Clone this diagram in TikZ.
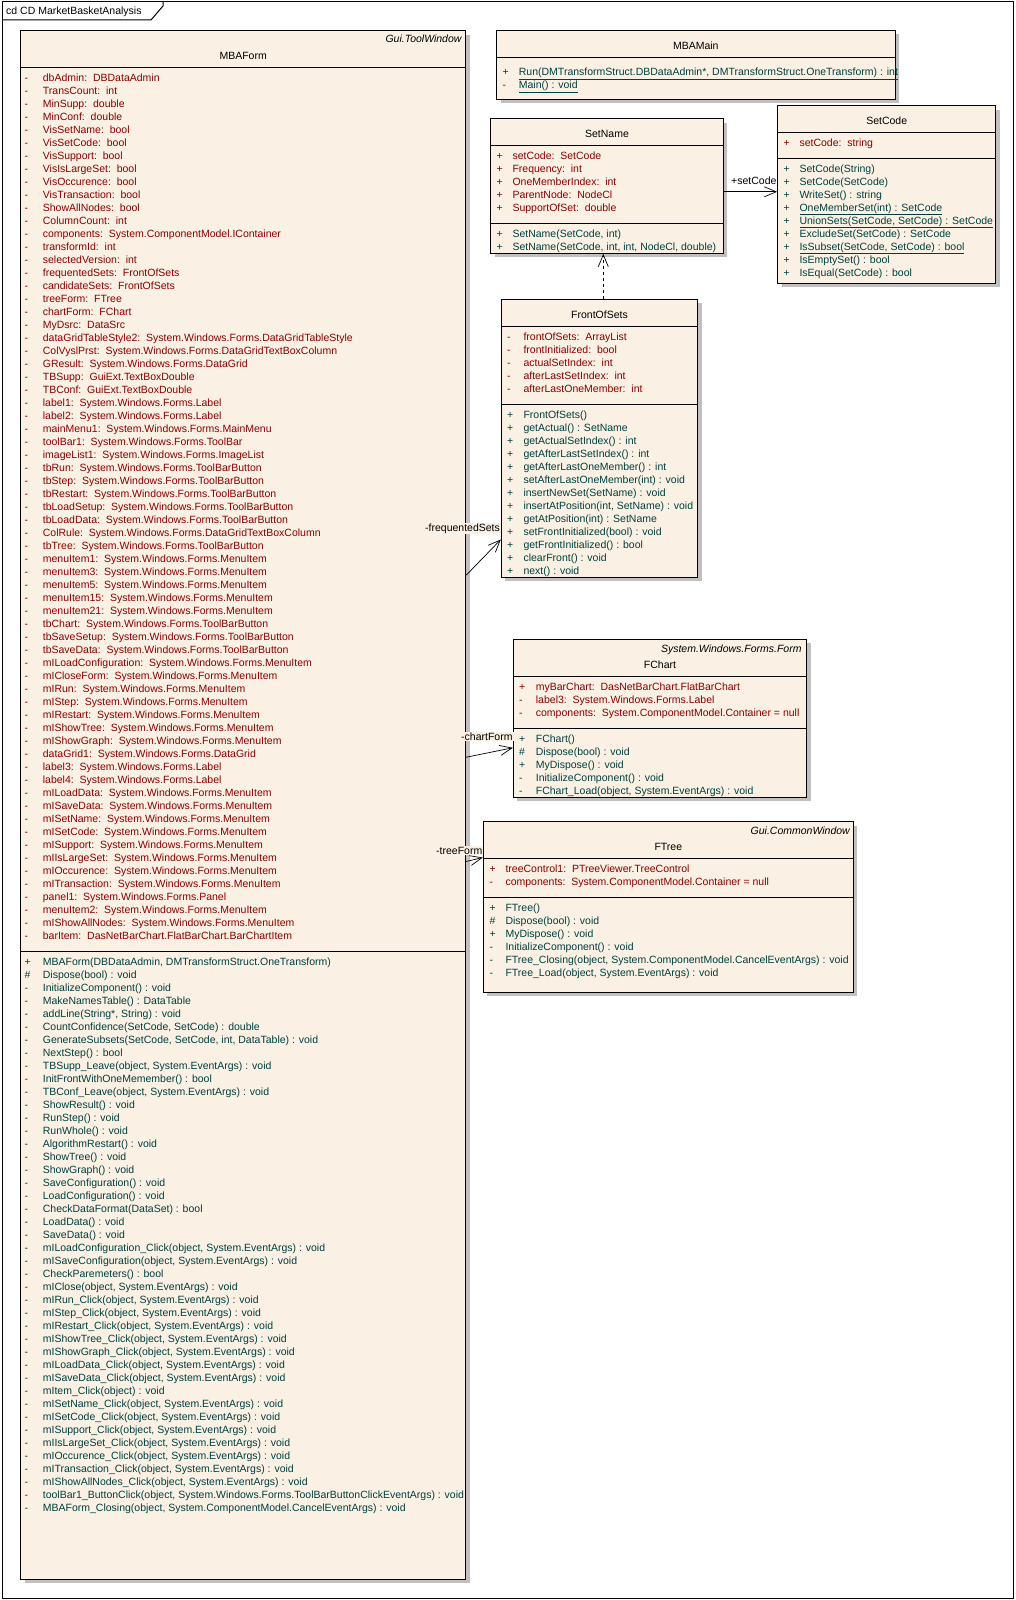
\documentclass[tikz,border=0pt]{standalone}
\usepackage{fontspec}
\setmainfont{Liberation Sans}
\usetikzlibrary{arrows.meta,fit,calc}
\definecolor{boxfill}{RGB}{250,240,227}
\definecolor{attrc}{RGB}{140,0,0}
\definecolor{methc}{RGB}{0,64,64}
\definecolor{shadowc}{RGB}{192,192,192}
\newcounter{rowc}
\newcommand\rowfont{\fontsize{10.5}{12}\selectfont}
\tikzset{
  classbox/.style={draw=black, line width=1pt, fill=boxfill, inner sep=0pt},
  rowtxt/.style={anchor=base west, inner sep=0pt, font=\rowfont},
  attrtxt/.style={rowtxt, text=attrc},
  methtxt/.style={rowtxt, text=methc},
  nametxt/.style={anchor=base, inner sep=0pt, font=\rowfont},
  stereo/.style={anchor=base east, inner sep=0pt, font=\rowfont\itshape},
  sepline/.style={line width=1pt},
  assoc/.style={line width=0.7pt, -{Straight Barb[length=12pt,width=10pt]}},
  dep/.style={line width=0.7pt, dash pattern=on 3pt off 3pt, -{Straight Barb[length=12pt,width=10pt]}},
  lbl/.style={anchor=base west, inner sep=1pt, font=\rowfont},
}
\newcommand\SX{0}
\newcommand\TX{0}
\newcommand\rowy{0}
\newcommand\startrows[3]{\xdef\SX{#1}\xdef\TX{#2}\xdef\rowy{#3}}
\newcommand\anyrow[3]{%
  \stepcounter{rowc}%
  \node[#1] (s\arabic{rowc}) at (\SX,\rowy+3.7) {#2};
  \node[#1] (t\arabic{rowc}) at (\TX,\rowy+3.7) {#3};
  \pgfmathsetmacro\tmpy{\rowy+13}\xdef\rowy{\tmpy}}
\newcommand\Arow[2]{\anyrow{attrtxt}{#1}{#2}}
\newcommand\Mrow[2]{\anyrow{methtxt}{#1}{#2}}
% name, x1, y1, x2, y2
\newcommand\umlbox[5]{%
  \fill[shadowc] (#2+4,#3+4) rectangle (#4+4,#5+4);
  \coordinate (#1-nw) at (#2,#3);
  \coordinate (#1-se) at (#4,#5);
  \node[classbox, fit=(#1-nw)(#1-se)] (#1) {};
}
\newcommand\sep[3]{\draw[sepline] (#1,#3) -- (#2,#3);}

\begin{document}
\begin{tikzpicture}[x=1pt,y=-1pt]
\useasboundingbox (0,0) rectangle (1016,1600);
\fill[white] (0,0) rectangle (1016,1600);
% frame
\draw[line width=1pt] (2,2) rectangle (1013,1598);
\draw[line width=1pt] (2,20) -- (151,20) -- (163,6) -- (163,2);
\node[anchor=base west, inner sep=0pt, font=\rowfont] (framelbl) at (6,14.5) {cd CD MarketBasketAnalysis};

% ---------------- MBAForm
\umlbox{mba}{20.7}{30.7}{465.7}{1579.3}
\node[stereo] (mbast) at (461.7,43) {Gui.ToolWindow};
\node[nametxt] (mbaname) at (243.2,59.4) {MBAForm};
\sep{20.7}{465.7}{67.3}
\sep{20.7}{465.7}{951.7}
\startrows{24.5}{42.7}{77.7}
\Arow{-}{dbAdmin:\ \ DBDataAdmin}
\Arow{-}{TransCount:\ \ int}
\Arow{-}{MinSupp:\ \ double}
\Arow{-}{MinConf:\ \ double}
\Arow{-}{VisSetName:\ \ bool}
\Arow{-}{VisSetCode:\ \ bool}
\Arow{-}{VisSupport:\ \ bool}
\Arow{-}{VisIsLargeSet:\ \ bool}
\Arow{-}{VisOccurence:\ \ bool}
\Arow{-}{VisTransaction:\ \ bool}
\Arow{-}{ShowAllNodes:\ \ bool}
\Arow{-}{ColumnCount:\ \ int}
\Arow{-}{components:\ \ System.ComponentModel.IContainer}
\Arow{-}{transformId:\ \ int}
\Arow{-}{selectedVersion:\ \ int}
\Arow{-}{frequentedSets:\ \ FrontOfSets}
\Arow{-}{candidateSets:\ \ FrontOfSets}
\Arow{-}{treeForm:\ \ FTree}
\Arow{-}{chartForm:\ \ FChart}
\Arow{-}{MyDsrc:\ \ DataSrc}
\Arow{-}{dataGridTableStyle2:\ \ System.Windows.Forms.DataGridTableStyle}
\Arow{-}{ColVyslPrst:\ \ System.Windows.Forms.DataGridTextBoxColumn}
\Arow{-}{GResult:\ \ System.Windows.Forms.DataGrid}
\Arow{-}{TBSupp:\ \ GuiExt.TextBoxDouble}
\Arow{-}{TBConf:\ \ GuiExt.TextBoxDouble}
\Arow{-}{label1:\ \ System.Windows.Forms.Label}
\Arow{-}{label2:\ \ System.Windows.Forms.Label}
\Arow{-}{mainMenu1:\ \ System.Windows.Forms.MainMenu}
\Arow{-}{toolBar1:\ \ System.Windows.Forms.ToolBar}
\Arow{-}{imageList1:\ \ System.Windows.Forms.ImageList}
\Arow{-}{tbRun:\ \ System.Windows.Forms.ToolBarButton}
\Arow{-}{tbStep:\ \ System.Windows.Forms.ToolBarButton}
\Arow{-}{tbRestart:\ \ System.Windows.Forms.ToolBarButton}
\Arow{-}{tbLoadSetup:\ \ System.Windows.Forms.ToolBarButton}
\Arow{-}{tbLoadData:\ \ System.Windows.Forms.ToolBarButton}
\Arow{-}{ColRule:\ \ System.Windows.Forms.DataGridTextBoxColumn}
\Arow{-}{tbTree:\ \ System.Windows.Forms.ToolBarButton}
\Arow{-}{menuItem1:\ \ System.Windows.Forms.MenuItem}
\Arow{-}{menuItem3:\ \ System.Windows.Forms.MenuItem}
\Arow{-}{menuItem5:\ \ System.Windows.Forms.MenuItem}
\Arow{-}{menuItem15:\ \ System.Windows.Forms.MenuItem}
\Arow{-}{menuItem21:\ \ System.Windows.Forms.MenuItem}
\Arow{-}{tbChart:\ \ System.Windows.Forms.ToolBarButton}
\Arow{-}{tbSaveSetup:\ \ System.Windows.Forms.ToolBarButton}
\Arow{-}{tbSaveData:\ \ System.Windows.Forms.ToolBarButton}
\Arow{-}{mILoadConfiguration:\ \ System.Windows.Forms.MenuItem}
\Arow{-}{mICloseForm:\ \ System.Windows.Forms.MenuItem}
\Arow{-}{mIRun:\ \ System.Windows.Forms.MenuItem}
\Arow{-}{mIStep:\ \ System.Windows.Forms.MenuItem}
\Arow{-}{mIRestart:\ \ System.Windows.Forms.MenuItem}
\Arow{-}{mIShowTree:\ \ System.Windows.Forms.MenuItem}
\Arow{-}{mIShowGraph:\ \ System.Windows.Forms.MenuItem}
\Arow{-}{dataGrid1:\ \ System.Windows.Forms.DataGrid}
\Arow{-}{label3:\ \ System.Windows.Forms.Label}
\Arow{-}{label4:\ \ System.Windows.Forms.Label}
\Arow{-}{mILoadData:\ \ System.Windows.Forms.MenuItem}
\Arow{-}{mISaveData:\ \ System.Windows.Forms.MenuItem}
\Arow{-}{mISetName:\ \ System.Windows.Forms.MenuItem}
\Arow{-}{mISetCode:\ \ System.Windows.Forms.MenuItem}
\Arow{-}{mISupport:\ \ System.Windows.Forms.MenuItem}
\Arow{-}{mIIsLargeSet:\ \ System.Windows.Forms.MenuItem}
\Arow{-}{mIOccurence:\ \ System.Windows.Forms.MenuItem}
\Arow{-}{mITransaction:\ \ System.Windows.Forms.MenuItem}
\Arow{-}{panel1:\ \ System.Windows.Forms.Panel}
\Arow{-}{menuItem2:\ \ System.Windows.Forms.MenuItem}
\Arow{-}{mIShowAllNodes:\ \ System.Windows.Forms.MenuItem}
\Arow{-}{barItem:\ \ DasNetBarChart.FlatBarChart.BarChartItem}
\startrows{24.5}{42.7}{961.7}
\Mrow{+}{MBAForm(DBDataAdmin, DMTransformStruct.OneTransform)}
\Mrow{\#}{Dispose(bool) : void}
\Mrow{-}{InitializeComponent() : void}
\Mrow{-}{MakeNamesTable() : DataTable}
\Mrow{-}{addLine(String*, String) : void}
\Mrow{-}{CountConfidence(SetCode, SetCode) : double}
\Mrow{-}{GenerateSubsets(SetCode, SetCode, int, DataTable) : void}
\Mrow{-}{NextStep() : bool}
\Mrow{-}{TBSupp\_Leave(object, System.EventArgs) : void}
\Mrow{-}{InitFrontWithOneMemember() : bool}
\Mrow{-}{TBConf\_Leave(object, System.EventArgs) : void}
\Mrow{-}{ShowResult() : void}
\Mrow{-}{RunStep() : void}
\Mrow{-}{RunWhole() : void}
\Mrow{-}{AlgorithmRestart() : void}
\Mrow{-}{ShowTree() : void}
\Mrow{-}{ShowGraph() : void}
\Mrow{-}{SaveConfiguration() : void}
\Mrow{-}{LoadConfiguration() : void}
\Mrow{-}{CheckDataFormat(DataSet) : bool}
\Mrow{-}{LoadData() : void}
\Mrow{-}{SaveData() : void}
\Mrow{-}{mILoadConfiguration\_Click(object, System.EventArgs) : void}
\Mrow{-}{mISaveConfiguration(object, System.EventArgs) : void}
\Mrow{-}{CheckParemeters() : bool}
\Mrow{-}{mIClose(object, System.EventArgs) : void}
\Mrow{-}{mIRun\_Click(object, System.EventArgs) : void}
\Mrow{-}{mIStep\_Click(object, System.EventArgs) : void}
\Mrow{-}{mIRestart\_Click(object, System.EventArgs) : void}
\Mrow{-}{mIShowTree\_Click(object, System.EventArgs) : void}
\Mrow{-}{mIShowGraph\_Click(object, System.EventArgs) : void}
\Mrow{-}{mILoadData\_Click(object, System.EventArgs) : void}
\Mrow{-}{mISaveData\_Click(object, System.EventArgs) : void}
\Mrow{-}{mItem\_Click(object) : void}
\Mrow{-}{mISetName\_Click(object, System.EventArgs) : void}
\Mrow{-}{mISetCode\_Click(object, System.EventArgs) : void}
\Mrow{-}{mISupport\_Click(object, System.EventArgs) : void}
\Mrow{-}{mIIsLargeSet\_Click(object, System.EventArgs) : void}
\Mrow{-}{mIOccurence\_Click(object, System.EventArgs) : void}
\Mrow{-}{mITransaction\_Click(object, System.EventArgs) : void}
\Mrow{-}{mIShowAllNodes\_Click(object, System.EventArgs) : void}
\Mrow{-}{toolBar1\_ButtonClick(object, System.Windows.Forms.ToolBarButtonClickEventArgs) : void}
\Mrow{-}{MBAForm\_Closing(object, System.ComponentModel.CancelEventArgs) : void}

% ---------------- MBAMain
\umlbox{mbamain}{496.7}{30.3}{895}{99.3}
\node[nametxt] (mbamainname) at (695.8,49.4) {MBAMain};
\sep{496.7}{895}{57.3}
\startrows{502.5}{518.7}{71.7}
\Mrow{+}{\underline{Run(DMTransformStruct.DBDataAdmin*, DMTransformStruct.OneTransform) : int}}
\Mrow{-}{\underline{Main() : void}}

% ---------------- SetName
\umlbox{setname}{490.7}{118.7}{723.3}{253.3}
\node[nametxt] (setnamename) at (607,137.4) {SetName};
\sep{490.7}{723.3}{145.7}
\sep{490.7}{723.3}{223.3}
\startrows{496.5}{512.3}{155.7}
\Arow{+}{setCode:\ \ SetCode}
\Arow{+}{Frequency:\ \ int}
\Arow{+}{OneMemberIndex:\ \ int}
\Arow{+}{ParentNode:\ \ NodeCl}
\Arow{+}{SupportOfSet:\ \ double}
\startrows{496.5}{512.3}{233.3}
\Mrow{+}{SetName(SetCode, int)}
\Mrow{+}{SetName(SetCode, int, int, NodeCl, double)}

% ---------------- SetCode
\umlbox{setcode}{777.7}{105.7}{995.7}{283.3}
\node[nametxt] (setcodename) at (886.7,124.4) {SetCode};
\sep{777.7}{995.7}{132.3}
\sep{777.7}{995.7}{158.3}
\startrows{783.5}{799.3}{142.7}
\Arow{+}{setCode:\ \ string}
\startrows{783.5}{799.3}{168.3}
\Mrow{+}{SetCode(String)}
\Mrow{+}{SetCode(SetCode)}
\Mrow{+}{WriteSet() : string}
\Mrow{+}{\underline{OneMemberSet(int) : SetCode}}
\Mrow{+}{\underline{UnionSets(SetCode, SetCode) : SetCode}}
\Mrow{+}{ExcludeSet(SetCode) : SetCode}
\Mrow{+}{\underline{IsSubset(SetCode, SetCode) : bool}}
\Mrow{+}{IsEmptySet() : bool}
\Mrow{+}{IsEqual(SetCode) : bool}

% ---------------- FrontOfSets
\umlbox{fos}{501.3}{299.3}{697.7}{577.3}
\node[nametxt] (fosname) at (599.5,318) {FrontOfSets};
\sep{501.3}{697.7}{326}
\sep{501.3}{697.7}{404.3}
\startrows{507}{523.3}{336.7}
\Arow{-}{frontOfSets:\ \ ArrayList}
\Arow{-}{frontInitialized:\ \ bool}
\Arow{-}{actualSetIndex:\ \ int}
\Arow{-}{afterLastSetIndex:\ \ int}
\Arow{-}{afterLastOneMember:\ \ int}
\startrows{507}{523.3}{415}
\Mrow{+}{FrontOfSets()}
\Mrow{+}{getActual() : SetName}
\Mrow{+}{getActualSetIndex() : int}
\Mrow{+}{getAfterLastSetIndex() : int}
\Mrow{+}{getAfterLastOneMember() : int}
\Mrow{+}{setAfterLastOneMember(int) : void}
\Mrow{+}{insertNewSet(SetName) : void}
\Mrow{+}{insertAtPosition(int, SetName) : void}
\Mrow{+}{getAtPosition(int) : SetName}
\Mrow{+}{setFrontInitialized(bool) : void}
\Mrow{+}{getFrontInitialized() : bool}
\Mrow{+}{clearFront() : void}
\Mrow{+}{next() : void}

% ---------------- FChart
\umlbox{fchart}{513.3}{639.3}{806.7}{797.3}
\node[stereo] (fchartst) at (801.7,652) {System.Windows.Forms.Form};
\node[nametxt] (fchartname) at (660,668) {FChart};
\sep{513.3}{806.7}{676.7}
\sep{513.3}{806.7}{728.7}
\startrows{519}{535.7}{686.7}
\Arow{+}{myBarChart:\ \ DasNetBarChart.FlatBarChart}
\Arow{-}{label3:\ \ System.Windows.Forms.Label}
\Arow{-}{components:\ \ System.ComponentModel.Container = null}
\startrows{519}{535.7}{738.3}
\Mrow{+}{FChart()}
\Mrow{\#}{Dispose(bool) : void}
\Mrow{+}{MyDispose() : void}
\Mrow{-}{InitializeComponent() : void}
\Mrow{-}{FChart\_Load(object, System.EventArgs) : void}

% ---------------- FTree
\umlbox{ftree}{483.3}{821.7}{853.3}{992.3}
\node[stereo] (ftreest) at (850,834.4) {Gui.CommonWindow};
\node[nametxt] (ftreename) at (668.3,850) {FTree};
\sep{483.3}{853.3}{858.3}
\sep{483.3}{853.3}{897.7}
\startrows{489.5}{505.3}{868.7}
\Arow{+}{treeControl1:\ \ PTreeViewer.TreeControl}
\Arow{-}{components:\ \ System.ComponentModel.Container = null}
\startrows{489.5}{505.3}{907.7}
\Mrow{+}{FTree()}
\Mrow{\#}{Dispose(bool) : void}
\Mrow{+}{MyDispose() : void}
\Mrow{-}{InitializeComponent() : void}
\Mrow{-}{FTree\_Closing(object, System.ComponentModel.CancelEventArgs) : void}
\Mrow{-}{FTree\_Load(object, System.EventArgs) : void}

% ---------------- connectors
\draw[assoc] ($(setname.north east)+(0,73.6)$) -- ($(setcode.north west)+(0,86.6)$);
\node[lbl] (lsetcode) at (730,184.6) {+setCode};
\draw[dep] ($(fos.north west)+(102.5,0)$) -- ($(setname.south west)+(113.1,0)$);
\draw[assoc] ($(mba.north east)+(0,545)$) -- ($(fos.north west)+(0,240.7)$);
\node[lbl, fill=boxfill] (lfreq) at (424,531.3) {-frequentedSets};
\draw[assoc] ($(mba.north east)+(0,727)$) -- ($(fchart.north west)+(0,109)$);
\node[lbl, fill=boxfill] (lchart) at (460,740.3) {-chartForm};
\draw[assoc] ($(mba.north east)+(0,831.3)$) -- ($(ftree.north west)+(0,36.3)$);
\node[lbl, fill=boxfill] (ltree) at (435,854.3) {-treeForm};
\end{tikzpicture}
\end{document}
